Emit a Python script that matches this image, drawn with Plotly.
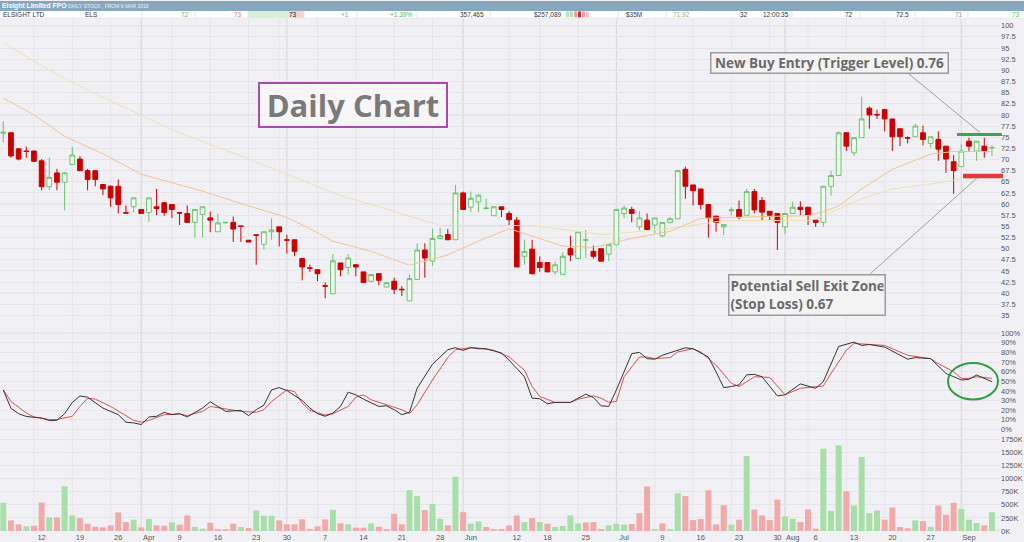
import pandas as pd
import plotly.graph_objects as go

# ASX trading days shown on the chart (weekends and public holidays left out)
holidays = ["2018-03-30", "2018-04-02", "2018-04-25", "2018-06-11"]
days = [d.strftime("%Y-%m-%d") for d in pd.bdate_range("2018-03-05", "2018-09-06")]
days = [d for d in days if d not in holidays]

# prices in cents
opens = [75.9, 76.0, 72.4, 71.9, 71.9, 69.7, 63.9, 67.0, 64.9, 68.9,
         70.1, 67.5, 67.5, 64.4, 64.0, 64.0, 58.1, 59.4, 58.8, 58.1,
         59.4, 60.3, 59.9, 58.1, 57.9, 55.9, 57.7, 56.9, 53.8, 55.8,
         55.9, 55.1, 51.9, 53.1, 51.0, 53.8, 54.9, 52.0, 52.0, 47.8,
         45.7, 45.3, 41.7, 39.9, 46.8, 45.8, 46.4, 44.8, 42.7, 44.4,
         41.4, 42.7, 40.9, 38.3, 43.1, 49.7, 47.2, 52.3, 53.2, 52.0,
         62.5, 59.3, 60.5, 59.0, 57.4, 59.4, 57.9, 56.4, 48.3, 49.9,
         46.9, 46.9, 44.8, 44.2, 50.0, 47.8, 51.9, 49.4, 50.0, 48.8,
         50.9, 57.9, 58.8, 54.9, 56.4, 55.3, 52.9, 55.9, 56.7, 67.8,
         64.3, 63.4, 59.9, 57.3, 54.9, 58.5, 58.8, 57.5, 62.8, 60.8,
         58.4, 57.9, 54.9, 57.9, 59.3, 59.3, 56.4, 55.9, 64.0, 66.4,
         76.0, 71.5, 74.9, 81.5, 80.1, 81.2, 79.1, 76.9, 74.9, 75.1,
         76.0, 73.6, 74.5, 73.0, 69.5, 68.4, 74.1, 71.9, 73.0, 72.6]
highs = [78.6, 76.1, 72.6, 72.9, 72.0, 70.1, 70.4, 67.9, 67.2, 72.9,
         70.8, 67.9, 67.5, 64.4, 64.2, 65.5, 59.7, 61.4, 58.8, 61.4,
         63.4, 60.5, 59.9, 58.1, 59.7, 58.8, 59.4, 58.3, 57.9, 55.9,
         57.2, 55.1, 51.9, 53.1, 53.8, 56.8, 54.9, 53.1, 52.0, 47.8,
         46.4, 45.3, 42.4, 48.8, 46.8, 48.8, 46.4, 44.8, 44.2, 44.4,
         42.4, 43.5, 41.6, 44.2, 51.2, 51.2, 54.5, 54.7, 54.4, 64.3,
         62.8, 62.8, 62.3, 61.2, 59.4, 59.4, 58.4, 57.1, 52.0, 52.0,
         48.3, 46.9, 47.2, 49.2, 52.9, 53.8, 54.2, 50.7, 50.0, 50.9,
         58.8, 59.7, 59.4, 58.4, 57.9, 56.9, 55.9, 57.1, 67.7, 68.4,
         64.3, 63.4, 59.9, 57.3, 55.4, 59.3, 60.8, 63.4, 63.4, 61.6,
         58.4, 57.9, 57.9, 60.6, 60.6, 59.3, 56.4, 64.0, 67.5, 76.3,
         76.0, 74.9, 84.1, 81.9, 81.2, 81.2, 79.1, 76.9, 75.2, 78.0,
         77.6, 75.1, 76.3, 73.0, 71.0, 73.4, 74.9, 74.1, 74.9, 73.2]
lows = [73.8, 70.4, 69.8, 70.4, 69.4, 63.1, 63.1, 63.1, 58.6, 68.9,
        67.5, 63.1, 64.0, 62.0, 59.4, 57.9, 57.9, 58.1, 57.9, 56.0,
        57.5, 57.4, 56.9, 55.3, 55.9, 52.5, 52.5, 53.7, 53.8, 55.7,
        51.5, 51.5, 51.5, 46.4, 49.8, 52.0, 50.5, 48.9, 48.3, 42.9,
        44.8, 42.7, 38.9, 39.9, 43.8, 44.2, 43.8, 42.4, 42.4, 41.8,
        41.4, 39.8, 39.4, 38.3, 43.1, 43.5, 46.1, 52.3, 52.0, 52.0,
        58.8, 58.2, 58.2, 58.8, 57.4, 57.1, 55.3, 45.9, 46.4, 44.2,
        44.8, 44.8, 44.2, 44.2, 47.2, 47.8, 47.9, 47.8, 47.2, 47.2,
        50.9, 56.8, 55.9, 54.2, 54.3, 53.4, 52.5, 55.6, 56.7, 61.2,
        59.7, 58.8, 52.5, 53.8, 53.0, 57.5, 56.6, 57.5, 57.9, 56.4,
        56.4, 49.7, 53.4, 57.9, 57.5, 55.3, 54.9, 54.9, 61.9, 66.4,
        71.9, 70.8, 74.9, 76.9, 79.1, 76.3, 71.9, 73.0, 73.6, 75.1,
        73.2, 72.6, 69.7, 67.0, 62.3, 68.4, 71.7, 69.7, 70.4, 70.8]
closes = [76.1, 70.8, 70.1, 71.8, 69.6, 63.9, 66.0, 64.9, 67.0, 71.0,
          67.5, 65.5, 65.5, 63.4, 61.4, 59.9, 58.0, 61.4, 57.9, 61.4,
          59.0, 58.1, 58.8, 58.0, 55.9, 58.8, 59.4, 56.4, 55.8, 55.9,
          54.4, 55.0, 51.5, 53.0, 53.8, 54.2, 53.8, 51.9, 49.4, 45.9,
          45.6, 44.4, 41.6, 47.3, 45.3, 47.9, 45.9, 42.4, 44.2, 42.9,
          42.4, 40.9, 40.8, 43.3, 49.7, 47.9, 52.3, 52.9, 52.0, 62.5,
          58.8, 61.3, 62.0, 59.1, 59.4, 58.8, 56.5, 45.9, 49.4, 44.4,
          45.8, 44.8, 46.4, 48.3, 48.6, 53.8, 52.0, 48.3, 47.2, 50.9,
          58.8, 59.1, 57.9, 56.9, 54.3, 56.9, 55.9, 56.7, 67.5, 64.0,
          63.0, 59.9, 56.9, 55.9, 55.4, 58.7, 57.1, 62.8, 58.7, 58.2,
          57.5, 55.9, 57.9, 59.3, 58.8, 57.5, 55.9, 64.0, 66.4, 76.0,
          73.0, 74.9, 79.1, 80.0, 80.0, 79.1, 75.1, 75.1, 74.8, 77.5,
          74.5, 75.1, 72.3, 70.1, 67.5, 71.9, 73.0, 74.1, 71.9, 72.7]

# moving averages, read at the bars where the curve bends (bar index, value)
ma_fast_idx = [0, 4, 8, 13, 18, 26, 32, 37, 40, 43, 48, 53, 58, 62, 66, 69, 73, 77, 82, 87,
               91, 99, 105, 107, 109, 112, 116, 121, 124, 129]
ma_fast_val = [83.8, 80.0, 75.2, 71.3, 66.7, 62.9, 59.6, 57.0, 54.5, 51.7, 49.4, 46.3, 48.6, 51.7,
               54.5, 52.8, 50.6, 50.3, 52.3, 53.9, 56.8, 57.2, 57.4, 58.3, 59.6, 63.4, 67.8, 71.2,
               71.8, 71.8]
ma_slow_idx = [0, 6, 11, 18, 22, 32, 44, 49, 57, 69, 78, 80, 87, 94, 105, 107, 112, 116, 121, 125, 129]
ma_slow_val = [96.2, 90.0, 85.6, 80.0, 76.7, 70.1, 61.9, 59.4, 55.2, 55.2, 53.2, 53.4, 54.5, 56.3,
               56.3, 57.4, 61.2, 63.4, 64.5, 65.6, 66.3]

# stochastic %K (black) and %D (red), in percent
stoch_k_idx = [0, 1, 2, 3, 5, 6, 7, 8, 9, 10, 11, 12, 13, 15, 16, 17, 18, 19, 20, 21, 22, 23, 24,
               26, 27, 28, 29, 31, 32, 33, 34, 35, 36, 37, 39, 40, 41, 42, 43, 44, 45, 46, 47, 49,
               50, 51, 52, 53, 54, 56, 58, 59, 60, 61, 62, 63, 65, 66, 68, 69, 70, 71, 72, 74, 75,
               76, 77, 78, 79, 80, 82, 83, 84, 85, 86, 88, 89, 90, 92, 93, 94, 95, 96, 97, 98, 99,
               101, 102, 104, 106, 107, 109, 111, 112, 113, 115, 118, 119, 121, 123, 125, 126, 127,
               129]
stoch_k_val = [41.0, 22.0, 16.4, 13.5, 11.9, 9.2, 9.5, 16.4, 28.0, 34.8, 33.5, 28.0, 22.2, 15.4,
               7.5, 6.8, 5.1, 13.0, 13.7, 17.8, 15.4, 16.4, 13.0, 22.2, 28.7, 23.9, 18.8, 19.8,
               14.4, 20.5, 25.3, 41.1, 43.5, 40.4, 30.1, 22.2, 16.4, 13.7, 17.1, 23.9, 38.7, 36.0,
               31.5, 23.9, 24.6, 20.5, 15.4, 17.8, 42.8, 67.8, 82.9, 85.0, 82.2, 85.0, 83.9, 83.9,
               79.5, 72.0, 54.8, 32.5, 31.9, 26.7, 28.1, 28.1, 32.5, 36.7, 33.2, 24.6, 23.9, 41.1,
               78.8, 80.1, 73.6, 73.0, 77.1, 82.2, 84.9, 83.9, 75.3, 59.9, 43.5, 44.6, 46.3, 56.8,
               57.2, 54.8, 34.9, 36.0, 47.3, 42.8, 49.7, 86.3, 90.8, 87.3, 88.3, 85.6, 73.0, 74.7,
               73.6, 58.2, 51.4, 52.1, 56.5, 49.7]
stoch_d_idx = [0, 1, 3, 4, 6, 7, 9, 10, 11, 12, 14, 16, 17, 18, 19, 21, 23, 24, 26, 27, 29, 31, 33,
               34, 35, 37, 38, 39, 40, 42, 43, 45, 46, 47, 48, 50, 52, 53, 54, 56, 58, 59, 61, 62,
               64, 66, 68, 69, 70, 72, 74, 75, 77, 78, 79, 80, 81, 83, 84, 85, 87, 88, 90, 91, 93,
               95, 96, 97, 98, 100, 101, 102, 104, 106, 107, 108, 110, 111, 114, 115, 118, 121, 122,
               124, 125, 126, 127, 129]
stoch_d_val = [41.1, 29.1, 17.1, 13.0, 10.3, 10.3, 13.7, 23.9, 32.5, 31.5, 23.9, 14.4, 9.5, 7.5,
               9.5, 15.4, 16.1, 14.4, 18.8, 23.9, 21.2, 18.8, 17.8, 20.5, 29.1, 41.1, 39.4, 27.3,
               19.8, 15.0, 16.4, 23.9, 33.5, 36.0, 30.8, 25.7, 20.5, 16.4, 25.7, 51.4, 74.7, 82.9,
               85.0, 84.6, 82.2, 75.3, 61.6, 44.6, 34.3, 28.1, 28.1, 31.5, 34.9, 32.5, 28.1, 29.1,
               54.8, 75.3, 75.3, 73.6, 74.7, 80.5, 83.9, 80.5, 66.8, 48.0, 44.6, 49.7, 54.8, 54.1,
               44.6, 36.0, 42.8, 44.6, 45.2, 58.2, 82.2, 89.4, 87.3, 87.3, 77.1, 73.6, 68.5, 59.9,
               53.1, 53.1, 54.8, 53.1]

# volume in thousands of shares, with bar colour (g = up day, r = down day)
volume_k = [538, 203, 127, 89, 101, 543, 259, 259, 852, 297,
            246, 139, 82, 69, 107, 354, 171, 215, 69, 228,
            107, 101, 164, 120, 297, 82, 44, 158, 25, 25,
            139, 76, 57, 392, 291, 291, 203, 127, 127, 221,
            32, 89, 221, 404, 145, 127, 63, 63, 145, 82,
            32, 328, 127, 783, 669, 398, 518, 234, 107, 1035,
            360, 139, 183, 76, 25, 25, 107, 297, 171, 246,
            171, 139, 76, 95, 297, 145, 164, 171, 25, 107,
            139, 120, 133, 341, 852, 25, 145, 19, 720, 669,
            208, 228, 777, 127, 493, 120, 215, 1433, 410, 297,
            208, 599, 278, 234, 171, 410, 44, 1572, 385, 1635,
            758, 486, 1414, 341, 392, 215, 448, 76, 51, 203,
            189, 82, 486, 309, 537, 423, 215, 152, 107, 360]
volume_dir = ("grrgrrgrgg" "rrrrrrrgrg" "rrgrrggrrr" "rgrgggrrrr" "rrrgrgrrgr"
              "rrrggrggrg" "rggrrrrrgr" "grggggrrrg" "ggrrrgrggr" "rrrrrgrgrr"
              "rrggrrrggg" "rggggrrrrg" "rgrrrgggrg")

tick_dates = ["2018-03-12", "2018-03-19", "2018-03-26", "2018-04-03", "2018-04-09", "2018-04-16",
              "2018-04-23", "2018-04-30", "2018-05-07", "2018-05-14", "2018-05-21", "2018-05-28",
              "2018-06-01", "2018-06-12", "2018-06-18", "2018-06-25", "2018-07-02", "2018-07-09",
              "2018-07-16", "2018-07-23", "2018-07-30", "2018-08-01", "2018-08-06", "2018-08-13",
              "2018-08-20", "2018-08-27", "2018-09-03"]
tick_text = ["12", "19", "26", "Apr", "9", "16", "23", "30", "7", "14", "21", "28", "Jun", "12",
             "18", "25", "Jul", "9", "16", "23", "30", "Aug", "6", "13", "20", "27", "Sep"]
month_starts = ["2018-04-03", "2018-05-01", "2018-06-01", "2018-07-02", "2018-08-01", "2018-09-03"]

price_ticks = [35 + 2.5 * i for i in range(27)]
stoch_ticks = list(range(0, 101, 10))
volume_ticks = list(range(0, 1751, 250))

buy_level = 75.6    # green trigger line
stop_level = 66.3   # red stop loss line

# header strip: (text, x pixel, anchor, colour)
header_cells = [("ELSIGHT LTD", 1, "left", "#333333"), ("ELS", 83, "left", "#333333"),
                ("72", 191, "right", "#5cb85c"), ("73", 244, "right", "#d9797a"),
                ("73", 299, "right", "#222222"), ("+1", 351, "right", "#5cb85c"),
                ("+1.39%", 414, "right", "#5cb85c"), ("357,465", 486, "right", "#333333"),
                ("$257,089", 563, "right", "#333333"), ("$35M", 624, "left", "#333333"),
                ("71.92", 692, "right", "#8fb08f"), ("32", 750, "right", "#333333"),
                ("12:00:35", 761, "left", "#333333"), ("72", 855, "right", "#333333"),
                ("72.5", 911, "right", "#333333"), ("71", 965, "right", "#d9797a"),
                ("73", 1022, "right", "#5cb85c")]

# ---------------------------------------------------------------------------
W, H = 1024, 542
MR, MB = 24, 6
PW, PH = W - MR, H - MB


def px_x(px):
    return px / PW


def px_y(py):
    return 1 - py / PH


def price_at(py):
    return 100 - (py - 25) / 4.51


def stoch_at(py):
    return (433.3 - py) / 0.973


def vol_at(py):
    return (535.7 - py) * 18.94


fig = go.Figure()

fig.add_trace(go.Candlestick(
    x=days, open=opens, high=highs, low=lows, close=closes,
    increasing=dict(line=dict(color="#6cc46c", width=1), fillcolor="#f3faf3"),
    decreasing=dict(line=dict(color="#cc0000", width=1), fillcolor="#cc0000"),
    whiskerwidth=0, xaxis="x", yaxis="y", hoverinfo="skip"))

fig.add_trace(go.Scatter(x=[days[i] for i in ma_slow_idx], y=ma_slow_val, mode="lines",
                         line=dict(color="#f2dfb2", width=1), yaxis="y"))
fig.add_trace(go.Scatter(x=[days[i] for i in ma_fast_idx], y=ma_fast_val, mode="lines",
                         line=dict(color="#f3c48e", width=1), yaxis="y"))

fig.add_trace(go.Scatter(x=[days[i] for i in stoch_d_idx], y=stoch_d_val, mode="lines",
                         line=dict(color="#d9534f", width=1), yaxis="y2"))
fig.add_trace(go.Scatter(x=[days[i] for i in stoch_k_idx], y=stoch_k_val, mode="lines",
                         line=dict(color="#333333", width=1), yaxis="y2"))

vol_colors = ["#a8dea8" if c == "g" else "#f1a9a9" for c in volume_dir]
fig.add_trace(go.Bar(x=days, y=volume_k, marker=dict(color=vol_colors, line=dict(width=0)),
                     yaxis="y3"))

shapes = []
faint = "#e6e6eb"
dark = "#d8d8de"

# vertical grid: one bar before every tick, darker at month changes
for t in tick_dates:
    d = days[days.index(t) - 1]
    shapes.append(dict(type="line", xref="x", yref="paper", x0=d, x1=d, y0=0, y1=px_y(18),
                       line=dict(color=faint, width=1), layer="between"))
for m in month_starts:
    d = days[days.index(m) - 1]
    shapes.append(dict(type="line", xref="x", yref="paper", x0=d, x1=d, y0=0, y1=px_y(18),
                       line=dict(color=dark, width=1), layer="between"))
# darker horizontal grid
for v in range(40, 101, 10):
    shapes.append(dict(type="line", xref="paper", yref="y", x0=0, x1=1, y0=v, y1=v,
                       line=dict(color=dark, width=1), layer="between"))
for v in (0, 100):
    shapes.append(dict(type="line", xref="paper", yref="y2", x0=0, x1=1, y0=v, y1=v,
                       line=dict(color=dark, width=1), layer="between"))
for v in (0, 1000):
    shapes.append(dict(type="line", xref="paper", yref="y3", x0=0, x1=1, y0=v, y1=v,
                       line=dict(color=dark, width=1), layer="between"))

# header strip
shapes.append(dict(type="rect", xref="paper", yref="paper", x0=0, x1=px_x(W), y0=px_y(10), y1=1,
                   fillcolor="#86a7be", line=dict(width=0)))
shapes.append(dict(type="rect", xref="paper", yref="paper", x0=0, x1=px_x(W), y0=px_y(17),
                   y1=px_y(10), fillcolor="#ffffff", line=dict(width=0)))
shapes.append(dict(type="rect", xref="paper", yref="paper", x0=0, x1=px_x(W), y0=px_y(18),
                   y1=px_y(17), fillcolor="#e9e9ee", line=dict(width=0)))
shapes.append(dict(type="rect", xref="paper", yref="paper", x0=px_x(248), x1=px_x(290),
                   y0=px_y(17), y1=px_y(10), fillcolor="#d6f0d6", line=dict(width=0)))
shapes.append(dict(type="rect", xref="paper", yref="paper", x0=px_x(290), x1=px_x(304),
                   y0=px_y(17), y1=px_y(10), fillcolor="#f6d3d6", line=dict(width=0)))
for sx in (142, 195, 248, 304, 357, 417, 490, 565, 618, 666, 740, 792, 860, 915, 968):
    shapes.append(dict(type="line", xref="paper", yref="paper", x0=px_x(sx), x1=px_x(sx),
                       y0=px_y(17), y1=px_y(10), line=dict(color="#e4e4e8", width=1)))
for j, col in enumerate(["#b8e2b8", "#b8e2b8", "#e9a0a0", "#cc3333", "#e9a0a0", "#f3c3c3"]):
    shapes.append(dict(type="rect", xref="paper", yref="paper", x0=px_x(566 + 4 * j),
                       x1=px_x(569 + 4 * j), y0=px_y(16.5), y1=px_y(10.5), fillcolor=col,
                       line=dict(width=0)))

# trade levels, connectors and the circled crossover
shapes.append(dict(type="line", xref="paper", yref="y", x0=px_x(957), x1=px_x(1002),
                   y0=buy_level, y1=buy_level, line=dict(color="#3aa84a", width=3)))
shapes.append(dict(type="line", xref="paper", yref="y", x0=px_x(963), x1=px_x(1003),
                   y0=stop_level, y1=stop_level, line=dict(color="#e03a3c", width=4.5)))
shapes.append(dict(type="line", xref="paper", yref="paper", x0=px_x(908), y0=px_y(73),
                   x1=px_x(980), y1=px_y(133), line=dict(color="#a0a0a4", width=1)))
shapes.append(dict(type="line", xref="paper", yref="paper", x0=px_x(869), y0=px_y(277),
                   x1=px_x(977), y1=px_y(179), line=dict(color="#a0a0a4", width=1)))
shapes.append(dict(type="circle", xref="paper", yref="paper", x0=px_x(948), x1=px_x(998),
                   y0=px_y(403), y1=px_y(366), line=dict(color="#2e9e3e", width=2)))

annotations = [
    dict(text="<b>Elsight Limited FPO</b>", x=px_x(0), y=px_y(5), font=dict(size=6.8, color="white")),
    dict(text="DAILY STOCK , FROM 6 MAR 2018", x=px_x(66), y=px_y(5.3),
         font=dict(size=5, color="#eef3f7")),
]
for txt, hx, anchor, col in header_cells:
    annotations.append(dict(text=txt, x=px_x(hx), y=px_y(13.6), xanchor=anchor,
                            font=dict(size=6.5, color=col)))
for a in annotations:
    a.setdefault("xanchor", "left")
    a.update(xref="paper", yref="paper", yanchor="middle", showarrow=False)

box_font = dict(family="Open Sans", size=13.5, color="#6a6a6a")
annotations += [
    dict(text="<b>Daily Chart</b>", xref="paper", yref="paper", x=px_x(353), y=px_y(105),
         xanchor="center", yanchor="middle", showarrow=False,
         font=dict(family="Open Sans", size=31, color="#7a7a7a"),
         bgcolor="#f6f6f7", bordercolor="#a64ca8", borderwidth=2, borderpad=2,
         width=182, height=38),
    dict(text="<b>New Buy Entry (Trigger Level) 0.76</b>", xref="paper", yref="paper",
         x=px_x(829), y=px_y(62.5), xanchor="center", yanchor="middle", showarrow=False,
         font=box_font, bgcolor="#f3f3f3", bordercolor="#9c9c9c", borderwidth=1.5, borderpad=1,
         width=234, height=17),
    dict(text="<b>Potential Sell Exit Zone<br>(Stop Loss) 0.67</b>", xref="paper", yref="paper",
         x=px_x(806.5), y=px_y(297.5), xanchor="center", yanchor="middle", showarrow=False,
         font=box_font, align="left", bgcolor="#f3f3f3", bordercolor="#9c9c9c",
         borderwidth=1.5, borderpad=1, width=153, height=37),
]

axis_font = dict(family="Liberation Sans", size=7.5, color="#555555")
fig.update_layout(
    width=W, height=H,
    margin=dict(l=0, r=MR, t=0, b=MB),
    paper_bgcolor="#f1f1f5", plot_bgcolor="#f1f1f5",
    showlegend=False, hovermode=False, bargap=0.22, boxgap=0.12,
    font=dict(family="Liberation Sans", size=8, color="#555555"),
    xaxis=dict(type="category", categoryorder="array", categoryarray=days,
               range=[-0.43, 130.05], anchor="y3", domain=[0, 1],
               tickvals=tick_dates, ticktext=tick_text, tickfont=axis_font,
               showgrid=False, ticks="", ticklen=0, showline=False, zeroline=False,
               rangeslider=dict(visible=False)),
    yaxis=dict(domain=[px_y(333), px_y(18)], range=[price_at(333), price_at(18)],
               side="right", anchor="x", tickvals=price_ticks,
               ticktext=[f"{v:g}" for v in price_ticks],
               tickfont=axis_font, gridcolor=faint, zeroline=False, ticks="", ticklen=0),
    yaxis2=dict(domain=[px_y(436), px_y(333)], range=[stoch_at(436), stoch_at(333)],
                side="right", anchor="x", tickvals=stoch_ticks,
                ticktext=[f"{v}%" for v in stoch_ticks],
                tickfont=axis_font, gridcolor=faint, zeroline=False, ticks="", ticklen=0),
    yaxis3=dict(domain=[0, px_y(436)], range=[0, vol_at(436)], side="right", anchor="x",
                tickvals=volume_ticks, ticktext=[f"{v}K" for v in volume_ticks],
                tickfont=axis_font, gridcolor=faint, zeroline=False, ticks="", ticklen=0),
    shapes=shapes, annotations=annotations,
)

# the page body has a default 8px margin; drop it so the figure fills the window
fig.write_html("out.html", config={"displayModeBar": False},
               post_script="document.body.style.margin='0';")
